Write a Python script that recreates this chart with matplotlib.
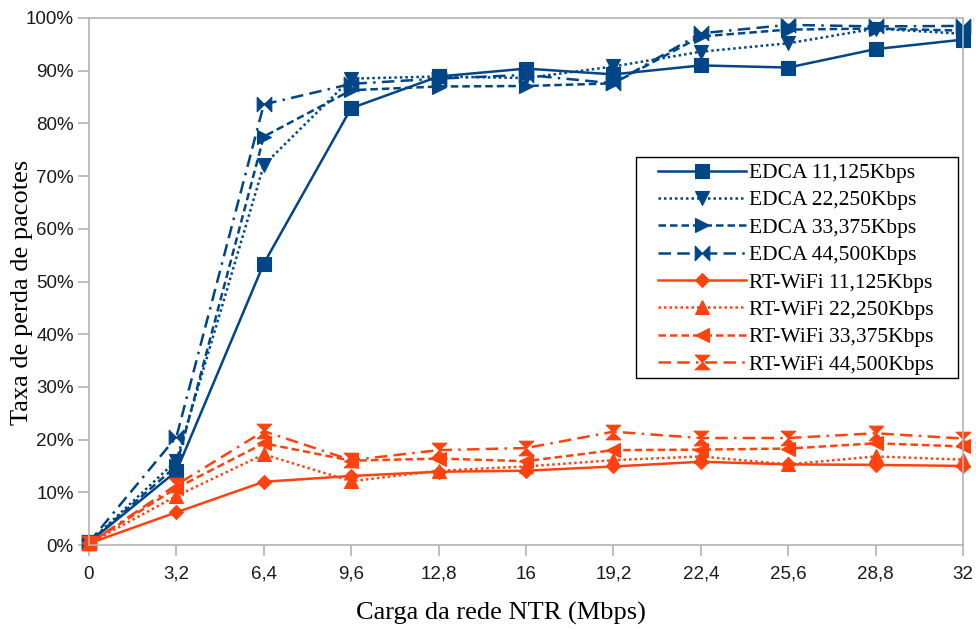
import matplotlib
matplotlib.use("Agg")
import matplotlib.pyplot as plt
from matplotlib.path import Path
from matplotlib.patches import Rectangle
from matplotlib.ticker import FuncFormatter

OUT = "out.png"

# carga da rede NTR (Mbps)
carga = [0, 3.2, 6.4, 9.6, 12.8, 16, 19.2, 22.4, 25.6, 28.8, 32]
carga_lbl = ["0", "3,2", "6,4", "9,6", "12,8", "16", "19,2", "22,4", "25,6", "28,8", "32"]

# taxa de perda (%)
edca_11 = [0.5, 14.0, 53.4, 82.9, 88.9, 90.4, 89.3, 91.0, 90.6, 94.1, 95.9]
edca_22 = [0.5, 16.0, 72.1, 88.5, 88.9, 88.6, 90.8, 93.6, 95.2, 98.0, 97.0]
edca_33 = [0.5, 15.0, 77.5, 86.3, 87.0, 87.1, 87.6, 96.5, 97.8, 98.0, 97.6]
edca_44 = [0.5, 20.5, 83.6, 87.5, 88.5, 89.2, 87.6, 97.1, 98.7, 98.4, 98.5]
rt_11 = [0.3, 6.2, 12.0, 13.1, 13.9, 14.1, 14.9, 15.8, 15.3, 15.2, 15.0]
rt_22 = [0.3, 9.3, 17.2, 12.1, 14.1, 14.9, 16.1, 16.8, 15.3, 16.8, 16.2]
rt_33 = [0.3, 10.8, 19.3, 16.0, 16.4, 15.9, 18.0, 18.1, 18.3, 19.3, 18.7]
rt_44 = [0.3, 11.4, 21.6, 16.1, 18.0, 18.4, 21.5, 20.3, 20.3, 21.2, 20.2]

AZUL = "#004586"
LARANJA = "#ff420e"
CINZA = "#b3b3b3"

bowtie = Path([(-1, -1), (1, 1), (1, -1), (-1, 1), (-1, -1)], closed=True)
hourglass = Path([(-1, 1), (1, 1), (-1, -1), (1, -1), (-1, 1)], closed=True)

DOT = (0, (1, 1.2))
DASH = (0, (3, 1.6))
DASHDOT = (0, (5, 2.5, 5, 2.5, 1, 2.5))

series = [
    ("EDCA 11,125Kbps", edca_11, AZUL, "-", "s", 10),
    ("EDCA 22,250Kbps", edca_22, AZUL, DOT, "v", 10.5),
    ("EDCA 33,375Kbps", edca_33, AZUL, DASH, ">", 10.5),
    ("EDCA 44,500Kbps", edca_44, AZUL, DASHDOT, bowtie, 10.5),
    ("RT-WiFi 11,125Kbps", rt_11, LARANJA, "-", "D", 7.5),
    ("RT-WiFi 22,250Kbps", rt_22, LARANJA, DOT, "^", 10.5),
    ("RT-WiFi 33,375Kbps", rt_33, LARANJA, DASH, "<", 10.5),
    ("RT-WiFi 44,500Kbps", rt_44, LARANJA, DASHDOT, hourglass, 10.5),
]

fig = plt.figure(figsize=(9.76, 6.29), dpi=100)
ax = fig.add_axes([89 / 976, 84 / 629, 874 / 976, 527 / 629])

for nome, vals, cor, ls, mk, ms in series:
    ax.plot(carga, vals, color=cor, linestyle=ls, linewidth=1.8,
            marker=mk, markersize=ms, markeredgewidth=0.8,
            markerfacecolor=cor, markeredgecolor=cor, label=nome,
            clip_on=False)

ax.set_xlim(0, 32)
ax.set_ylim(0, 100)
ax.set_xticks(carga)
ax.set_xticklabels(carga_lbl)
ax.set_yticks(range(0, 101, 10))
ax.yaxis.set_major_formatter(FuncFormatter(lambda v, p: f"{v:.0f}%"))

for s in ax.spines.values():
    s.set_color(CINZA)
    s.set_linewidth(1.2)
ax.tick_params(colors=CINZA, length=8, width=1.2, direction="out", pad=3)
ax.tick_params(axis="x", pad=7)
ax.tick_params(labelcolor="#1a1a1a", labelsize=13.5)
for t in ax.get_xticklabels() + ax.get_yticklabels():
    t.set_family("Liberation Sans")

ax.set_xlabel("Carga da rede NTR (Mbps)", family="Liberation Serif", fontsize=19)
ax.set_ylabel("Taxa de perda de pacotes", family="Liberation Serif", fontsize=19)
ax.xaxis.set_label_coords((501 - 89) / 874, (545 - 602) / 527)
ax.yaxis.set_label_coords((33 - 89) / 874, (545 - 292) / 527)

# legenda: caixa desenhada a parte para ter margens como no original
x0, y0 = (636 - 89) / 874, (545 - 378) / 527
x1, y1 = (958 - 89) / 874, (545 - 157) / 527
ax.add_patch(Rectangle((x0, y0), x1 - x0, y1 - y0, transform=ax.transAxes,
                       facecolor="white", edgecolor="black", linewidth=1.0,
                       zorder=5, clip_on=False))
leg = ax.legend(loc="upper left", bbox_to_anchor=((658 - 89) / 874, (545 - 163) / 527),
                prop={"family": "Liberation Serif", "size": 15.5},
                frameon=False, handlelength=4.1, labelspacing=0.34,
                borderpad=0.0, borderaxespad=0.0, handletextpad=0.15)
leg.set_zorder(6)

fig.savefig(OUT, dpi=100)
plt.close(fig)
print(f"Saved {OUT}")
